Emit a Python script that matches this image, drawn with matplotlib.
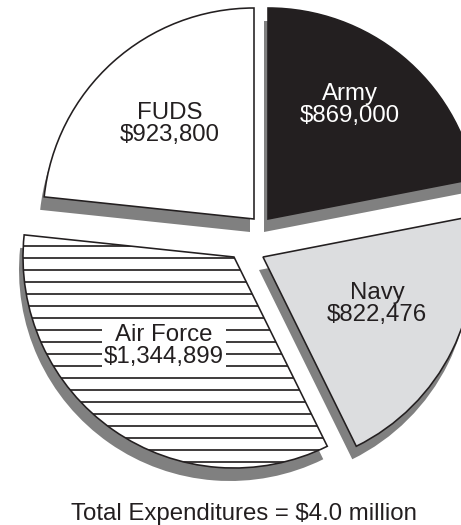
import matplotlib.pyplot as plt

plt.rcParams['font.family'] = ['Liberation Sans', 'DejaVu Sans']
plt.rcParams['hatch.linewidth'] = 1.7
plt.rcParams['hatch.color'] = "#231f20"

# Data
services = ["Army", "Navy", "Air Force", "FUDS"]
spending = [869000, 822476, 1344899, 923800]
amounts = ["$869,000", "$822,476", "$1,344,899", "$923,800"]
title = "Total Expenditures = $4.0 million"

# Styles
ink = "#231f20"
fills = [ink, "#dcdddf", "white", "white"]
hatches = [None, None, "-", None]
text_colors = ["white", ink, ink, ink]
shadow_color = "#808080"

# Layout in pixels, y from the bottom of the figure
R = 211
apex = [(268, 306), (263, 268), (234, 268), (254, 306)]
label_pos = [(350, 420), (377, 221), (164, 179), (170, 401)]
shadow_shift = (-4, -13)

fig = plt.figure(figsize=(461 / 72, 525 / 72), dpi=72)
ax = fig.add_axes([0, 0, 1, 1])

# drop shadows first
shadow, _ = ax.pie(spending, radius=R, startangle=90, counterclock=False,
                   colors=[shadow_color] * len(spending),
                   wedgeprops=dict(linewidth=0))
for w, (x, y) in zip(shadow, apex):
    w.set_center((x + shadow_shift[0], y + shadow_shift[1]))

# the slices
wedges, _ = ax.pie(spending, radius=R, startangle=90, counterclock=False,
                   colors=fills,
                   wedgeprops=dict(edgecolor=ink, linewidth=1.6))
for w, (x, y), h in zip(wedges, apex, hatches):
    w.set_center((x, y))
    if h:
        w.set_hatch(h)

# labels
for name, amt, (x, y), c in zip(services, amounts, label_pos, text_colors):
    box = None
    if name == "Air Force":
        box = dict(boxstyle="square,pad=0.1", fc="white", ec="none")
    ax.text(x, y, name + "\n" + amt, ha="center", va="center", fontsize=24,
            color=c, linespacing=1.05, bbox=box)

ax.text(244, 5, title, ha="center", va="baseline", fontsize=24, color=ink)

ax.set_xlim(0, 461)
ax.set_ylim(0, 525)
ax.set_aspect("equal")
ax.axis("off")

fig.savefig("out.png", dpi=72)
